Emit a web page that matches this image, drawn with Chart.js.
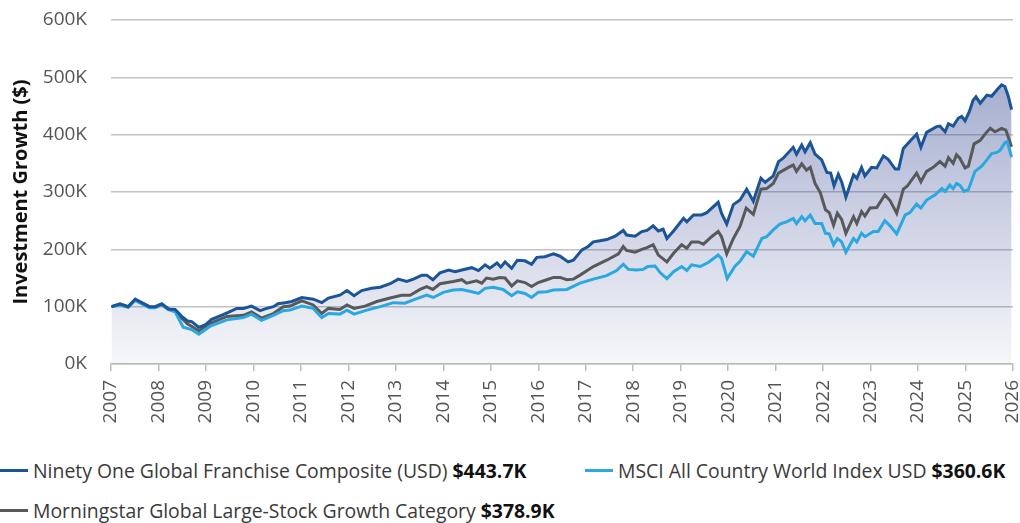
<!DOCTYPE html>
<html lang="en">
<head>
<meta charset="UTF-8">
<title>Investment Growth</title>
<script src="https://cdn.jsdelivr.net/npm/chart.js"></script>
<style>
  body { margin: 0; background: #fff; font-family: "Open Sans", sans-serif; }
  .chart-wrap { position: relative; width: 1020px; height: 523px; }
  .legend {
    position: absolute; left: 0; top: 450px;
    display: grid; grid-template-columns: 585px auto; grid-auto-rows: 40px;
    margin: 0; padding: 0; list-style: none;
  }
  .legend li { display: flex; align-items: center; font-size: 19.4px; color: #3a3a3a; white-space: nowrap; }
  .legend .swatch { width: 28px; height: 3px; margin-right: 5px; }
  .legend b { color: #111; margin-left: 5px; }
</style>
</head>
<body>
<div class="chart-wrap">
  <canvas id="growthChart" width="1020" height="440"></canvas>
  <ul class="legend" id="legend"></ul>
</div>
<script>
// values in thousands of USD, dates as decimal years
const nfDates = [2007.01,2007.19,2007.36,2007.51,2007.65,2007.81,2007.93,2008.07,2008.21,2008.35,2008.49,2008.61,2008.70,2008.85,2008.98,
  2009.12,2009.30,2009.47,2009.65,2009.79,2009.96,2010.14,2010.28,2010.42,2010.52,2010.67,2010.81,2011.02,2011.26,2011.44,2011.58,2011.82,2011.97,
  2012.12,2012.28,2012.49,2012.67,2012.88,2013.05,2013.23,2013.37,2013.55,2013.65,2013.78,2013.93,2014.11,2014.25,2014.39,2014.60,2014.74,2014.88,2014.98,
  2015.13,2015.21,2015.30,2015.44,2015.56,2015.72,2015.86,2015.97,2016.14,2016.32,2016.46,2016.63,2016.74,2016.92,2017.05,2017.16,2017.30,2017.44,2017.62,
  2017.79,2017.86,2018.04,2018.18,2018.29,2018.42,2018.53,2018.63,2018.71,2018.85,2019.06,2019.13,2019.27,2019.44,2019.55,2019.79,2019.86,2019.97,
  2020.11,2020.25,2020.39,2020.53,2020.69,2020.78,2020.95,2021.06,2021.16,2021.37,2021.44,2021.55,2021.62,2021.73,2021.83,2021.97,
  2022.08,2022.16,2022.23,2022.32,2022.39,2022.48,2022.64,2022.71,2022.81,2022.88,2023.02,2023.13,2023.27,2023.37,2023.52,2023.59,2023.69,2023.80,2023.97,
  2024.06,2024.18,2024.39,2024.46,2024.57,2024.64,2024.74,2024.85,2024.92,2024.99,2025.08,2025.16,2025.22,2025.31,2025.45,2025.55,2025.66,2025.76,2025.83,2025.90,2025.97];
const nfValues = [100,105,100,113,107,100,100,105,96,95,83,75,74,64,68,
  78,84,90,97,97,101,93,97,100,105,107,109,116,113,107,115,120,128,
  119,128,132,134,140,148,144,148,155,155,147,159,164,161,164,168,163,173,167,
  176,169,178,167,181,180,174,186,187,192,188,178,181,199,205,213,215,217,223,
  233,225,223,231,233,241,232,235,219,232,254,248,260,260,264,282,263,244,
  278,286,305,284,324,317,328,353,359,378,366,382,370,386,366,356,
  334,333,311,331,318,291,330,324,343,328,343,342,363,357,340,340,376,386,401,
  378,404,414,415,405,419,415,429,432,424,440,460,466,455,469,467,478,487,484,467,443.7];

const msciDates = [2007.01,2007.19,2007.36,2007.51,2007.65,2007.81,2007.93,2008.07,2008.21,2008.35,2008.52,2008.70,2008.85,
  2009.09,2009.44,2009.79,2009.96,2010.17,2010.42,2010.63,2010.77,2011.02,2011.26,2011.44,2011.58,2011.82,2011.97,
  2012.12,2012.39,2012.67,2012.95,2013.19,2013.37,2013.65,2013.79,2014.00,2014.21,2014.39,2014.60,2014.74,2014.88,
  2015.05,2015.26,2015.44,2015.56,2015.72,2015.86,2016.00,2016.18,2016.32,2016.60,2016.88,2017.16,2017.44,2017.65,2017.79,2017.90,
  2018.07,2018.21,2018.31,2018.46,2018.57,2018.71,2018.85,2019.02,2019.13,2019.23,2019.41,2019.58,2019.79,2019.86,2019.98,
  2020.14,2020.25,2020.39,2020.53,2020.71,2020.81,2020.95,2021.09,2021.23,2021.37,2021.44,2021.55,2021.62,2021.73,2021.83,2021.97,
  2022.05,2022.13,2022.22,2022.30,2022.39,2022.48,2022.64,2022.71,2022.81,2022.88,2023.06,2023.16,2023.30,2023.41,2023.55,2023.73,2023.83,2023.97,
  2024.06,2024.18,2024.36,2024.50,2024.57,2024.67,2024.74,2024.81,2024.88,2024.97,2025.06,2025.20,2025.34,2025.45,2025.55,2025.66,2025.73,2025.83,2025.88,2025.97];
const msciValues = [100,103,99,111,105,98,98,103,95,91,64,60,52,
  66,77,81,87,76,85,93,94,101,97,81,88,87,94,
  87,94,100,107,106,112,120,116,125,129,130,126,123,132,
  134,130,119,126,123,116,125,126,129,130,141,148,154,163,174,165,
  164,165,170,171,159,149,161,170,163,173,170,177,190,184,149,
  170,179,196,188,219,222,234,244,248,254,245,257,250,260,245,245,
  228,227,208,219,213,195,219,213,228,222,231,231,250,241,227,260,264,279,
  272,286,295,306,301,312,306,315,312,301,304,336,345,356,367,369,373,386,388,360.6];

const msDates = [2007.01,2007.19,2007.36,2007.51,2007.65,2007.81,2007.93,2008.07,2008.21,2008.35,2008.49,2008.61,2008.85,
  2009.09,2009.44,2009.79,2009.96,2010.17,2010.42,2010.63,2010.77,2011.02,2011.26,2011.44,2011.58,2011.82,2011.97,
  2012.12,2012.35,2012.60,2012.88,2013.12,2013.30,2013.51,2013.65,2013.78,2013.93,2014.21,2014.39,2014.49,2014.70,2014.81,2014.91,
  2015.05,2015.19,2015.30,2015.44,2015.56,2015.72,2015.86,2016.00,2016.18,2016.32,2016.46,2016.60,2016.74,2016.88,2017.16,2017.44,2017.69,2017.79,2017.86,
  2018.04,2018.18,2018.29,2018.42,2018.53,2018.71,2018.85,2019.02,2019.13,2019.23,2019.37,2019.48,2019.65,2019.79,2019.86,2019.97,
  2020.11,2020.25,2020.38,2020.53,2020.69,2020.81,2020.95,2021.06,2021.27,2021.37,2021.44,2021.55,2021.65,2021.73,2021.83,2021.94,
  2022.05,2022.13,2022.22,2022.30,2022.39,2022.48,2022.64,2022.71,2022.81,2022.88,2022.99,2023.13,2023.30,2023.41,2023.55,2023.69,2023.77,2023.97,
  2024.06,2024.18,2024.32,2024.46,2024.57,2024.64,2024.74,2024.81,2024.88,2024.99,2025.06,2025.18,2025.31,2025.41,2025.52,2025.62,2025.76,2025.85,2025.97];
const msValues = [100,104,100,112,106,99,99,104,96,93,80,70,58,
  71,83,85,91,80,88,100,101,110,103,88,97,95,103,
  97,101,109,115,120,120,130,135,130,140,144,147,141,145,141,150,
  148,151,150,136,145,142,135,142,147,151,151,147,148,155,170,181,192,205,198,
  195,200,203,208,190,178,193,208,202,213,213,209,222,231,222,192,
  219,240,272,261,305,306,315,333,343,347,336,349,338,343,315,299,
  269,264,242,263,252,228,257,245,266,258,272,273,295,285,263,305,310,333,
  318,336,343,353,345,360,350,365,359,342,345,384,390,401,411,405,411,408,378.9];

const seriesNames = ["Ninety One Global Franchise Composite (USD)", "MSCI All Country World Index USD", "Morningstar Global Large-Stock Growth Category"];
const finalLabels = ["$443.7K", "$360.6K", "$378.9K"];
const seriesColors = ["#1b5597", "#2aa8df", "#58595b"];

function toPoints(dates, values) {
  return dates.map((d, i) => ({ x: d, y: values[i] }));
}

function areaFill(context) {
  const chart = context.chart;
  if (!chart.chartArea) return "rgba(40,60,140,0.25)";
  const top = chart.scales.y.getPixelForValue(500);
  const g = chart.ctx.createLinearGradient(0, top, 0, chart.chartArea.bottom);
  g.addColorStop(0, "rgba(40,60,140,0.42)");
  g.addColorStop(1, "rgba(40,60,140,0.04)");
  return g;
}

// legend (html, because of the bold end values)
const legendEl = document.getElementById("legend");
[0, 1, 2].forEach(i => {
  const li = document.createElement("li");
  li.innerHTML = '<span class="swatch" style="background:' + seriesColors[i] + '"></span>' +
    seriesNames[i] + "<b>" + finalLabels[i] + "</b>";
  legendEl.appendChild(li);
});

Chart.defaults.font.family = '"Open Sans", sans-serif';
Chart.defaults.font.size = 19;
Chart.defaults.color = "#555";

new Chart(document.getElementById("growthChart"), {
  type: "line",
  data: {
    datasets: [
      {
        label: seriesNames[0],
        data: toPoints(nfDates, nfValues),
        borderColor: seriesColors[0],
        backgroundColor: areaFill,
        fill: "origin",
        borderWidth: 3,
        pointRadius: 0,
        tension: 0
      },
      {
        label: seriesNames[1],
        data: toPoints(msciDates, msciValues),
        borderColor: seriesColors[1],
        fill: false,
        borderWidth: 3,
        pointRadius: 0,
        tension: 0
      },
      {
        label: seriesNames[2],
        data: toPoints(msDates, msValues),
        borderColor: seriesColors[2],
        fill: false,
        borderWidth: 3,
        pointRadius: 0,
        tension: 0
      }
    ]
  },
  options: {
    responsive: false,
    animation: false,
    layout: { padding: { top: 20, right: 7, bottom: 0, left: 0 } },
    plugins: {
      legend: { display: false },
      tooltip: { enabled: false },
      filler: { drawTime: "beforeDatasetsDraw" }
    },
    scales: {
      x: {
        type: "linear",
        min: 2007,
        max: 2026,
        afterFit: s => { s.height = 76; s.paddingLeft = 0; s.paddingRight = 0; },
        border: { display: true, color: "#bdbdbd", width: 1.5 },
        grid: { drawOnChartArea: false, drawTicks: true, tickLength: 7, color: "#bdbdbd", lineWidth: 1.5 },
        ticks: {
          stepSize: 1,
          autoSkip: false,
          minRotation: 90,
          maxRotation: 90,
          padding: 9,
          callback: v => String(v)
        }
      },
      y: {
        min: 0,
        max: 600,
        afterFit: s => { s.width = 111; s.paddingTop = 0; s.paddingBottom = 0; },
        border: { display: false },
        grid: { drawTicks: false, color: "#c2c2c2", lineWidth: 1.5 },
        ticks: { stepSize: 100, padding: 24, callback: v => v + "K" },
        title: {
          display: true,
          text: "Investment Growth ($)",
          color: "#111",
          font: { size: 20, weight: "bold" },
          padding: { top: 9, bottom: 0 }
        }
      }
    }
  }
});
</script>
</body>
</html>
